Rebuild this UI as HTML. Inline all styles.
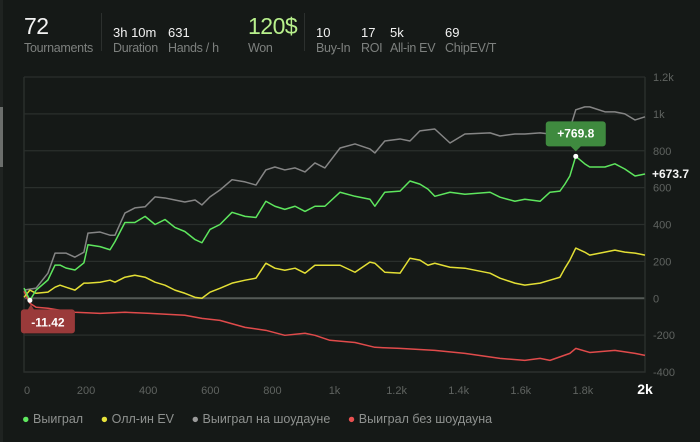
<!DOCTYPE html>
<html><head><meta charset="utf-8">
<style>
body{margin:0;background:#151917;width:700px;height:442px;overflow:hidden;font-family:"Liberation Sans",sans-serif;position:relative}
.abs{position:absolute;white-space:nowrap}
.v{color:#f2f2f2;font-size:13px}
.l{color:#7d807e;font-size:12.5px;letter-spacing:-0.3px}
.big{font-size:23px;color:#f2f2f2;letter-spacing:-0.5px}
.div{position:absolute;width:1px;background:#2c302e}
</style></head><body>
<div class="abs" style="left:0;top:0;width:3px;height:442px;background:#1f2321"></div>
<div class="abs" style="left:0;top:107px;width:3px;height:60px;background:#6b6e6c"></div>

<div class="abs big" style="left:24px;top:13px">72</div>
<div class="abs l" style="left:24px;top:41px">Tournaments</div>
<div class="div" style="left:101px;top:13px;height:38px"></div>
<div class="abs v" style="left:113px;top:25px">3h 10m</div>
<div class="abs l" style="left:113px;top:41px">Duration</div>
<div class="abs v" style="left:168px;top:25px">631</div>
<div class="abs l" style="left:168px;top:41px">Hands / h</div>
<div class="abs big" style="left:248px;top:13px;color:#b8f08c">120$</div>
<div class="abs l" style="left:248px;top:41px">Won</div>
<div class="div" style="left:304px;top:13px;height:38px"></div>
<div class="abs v" style="left:316px;top:25px">10</div>
<div class="abs l" style="left:316px;top:41px">Buy-In</div>
<div class="abs v" style="left:361px;top:25px">17</div>
<div class="abs l" style="left:361px;top:41px">ROI</div>
<div class="abs v" style="left:390px;top:25px">5k</div>
<div class="abs l" style="left:390px;top:41px">All-in EV</div>
<div class="abs v" style="left:445px;top:25px">69</div>
<div class="abs l" style="left:445px;top:41px">ChipEV/T</div>

<svg id="chart" width="700" height="442" style="position:absolute;left:0;top:0" font-family="Liberation Sans, sans-serif"></svg>

<div class="abs" style="left:22px;top:412px;font-size:12.5px;color:#8e918f">
<span><span style="color:#5fe85f">●</span> Выиграл</span>
<span style="margin-left:14px"><span style="color:#e6e23a">●</span> Олл-ин EV</span>
<span style="margin-left:14px"><span style="color:#9a9a9a">●</span> Выиграл на шоудауне</span>
<span style="margin-left:14px"><span style="color:#e85050">●</span> Выиграл без шоудауна</span>
</div>

<script>
const yTicks=[-400,-200,0,200,400,600,800,1000,1200];
const yTickLabels=["-400","-200","0","200","400","600","800","1k","1.2k"];
const xTicks=[0,200,400,600,800,1000,1200,1400,1600,1800,2000];
const xTickLabels=["0","200","400","600","800","1k","1.2k","1.4k","1.6k","1.8k","2k"];
const wonHands=[0,19,39,77,100,116,135,164,193,206,245,277,293,325,357,390,422,454,486,518,551,573,599,631,670,712,747,779,808,840,873,905,937,969,1018,1066,1114,1130,1162,1211,1243,1275,1301,1323,1372,1420,1501,1533,1581,1613,1662,1694,1726,1742,1758,1777,1806,1822,1871,1903,1935,1968,2000];
const wonValues=[55,-11.42,44,99,180,180,164,153,192,290,280,263,307,411,411,444,400,427,384,362,318,301,373,400,466,444,438,526,499,482,499,471,499,499,575,553,537,499,575,581,636,619,592,553,575,564,575,548,526,537,526,575,581,619,663,769.8,729,712,712,729,701,663,673.7];
const sdHands=[0,39,77,100,135,164,193,206,245,277,293,325,357,390,422,454,486,518,551,573,599,631,670,712,747,779,808,840,873,905,937,969,1018,1066,1114,1130,1162,1211,1243,1275,1323,1372,1420,1501,1533,1581,1613,1662,1694,1726,1758,1777,1806,1822,1871,1903,1935,1968,2000];
const sdValues=[44,55,136,245,245,223,250,353,359,342,342,462,490,496,550,544,533,522,533,506,550,587,643,631,614,696,712,696,707,685,734,707,815,837,810,788,853,864,853,908,918,842,891,897,880,891,891,897,891,918,918,1022,1038,1038,1011,1011,1000,967,984];
const evHands=[0,19,39,77,100,116,135,164,193,206,245,277,293,325,357,390,422,454,486,518,551,573,599,631,670,712,747,779,808,840,873,905,937,969,1018,1066,1114,1130,1162,1211,1243,1275,1301,1323,1372,1420,1501,1533,1581,1613,1662,1694,1726,1742,1758,1777,1806,1822,1871,1903,1935,1968,2000];
const evValues=[5,44,27,33,60,71,60,44,82,82,87,98,87,114,125,114,87,71,44,27,5,0,33,54,82,98,109,190,163,152,163,136,179,179,179,141,196,190,141,136,217,207,179,190,168,163,136,109,82,71,82,98,114,163,207,272,250,234,250,261,250,245,234];
const noSdHands=[0,19,39,77,116,164,245,325,406,518,573,631,712,779,840,905,937,985,1066,1130,1211,1323,1420,1533,1613,1662,1694,1758,1777,1822,1903,1968,2000];
const noSdValues=[38,-27,-49,-54,-65,-76,-82,-76,-82,-92,-109,-120,-158,-174,-201,-190,-201,-228,-240,-266,-272,-283,-299,-326,-337,-326,-337,-299,-272,-294,-283,-299,-310];

const NS="http://www.w3.org/2000/svg";
const svg=document.getElementById('chart');
const X0=24,X1=645,YTOP=77,YBOT=372;
const yMin=-400,yMax=1200,xMax=2000;
function xs(h){return X0+(X1-X0)*h/xMax;}
function ys(v){return YBOT-(YBOT-YTOP)*(v-yMin)/(yMax-yMin);}
function mk(t,a){const e=document.createElementNS(NS,t);for(const k in a)e.setAttribute(k,a[k]);svg.appendChild(e);return e;}

yTicks.forEach((v,i)=>{
  const ln=mk('line',{x1:X0,x2:X1,y1:ys(v),y2:ys(v),stroke:v===0?'#555a57':'#2a2f2c','stroke-width':v===0?2:1.2});
  
  
  const t=mk('text',{x:X1+8,y:ys(v)+4,fill:'#5f6360','font-size':11});
  t.textContent=yTickLabels[i];
  
  
});
const ax=mk('path',{d:`M${X0},${YTOP}V${YBOT}H${X1}V${YTOP}`,fill:'none',stroke:'#2a2f2c','stroke-width':1.5});


xTicks.forEach((h,i)=>{
  const last=i===xTicks.length-1;
  const t=mk('text',{x:xs(h),y:394,fill:last?'#ffffff':'#5f6360','font-size':last?14:11,'font-weight':last?'bold':'normal','text-anchor':i===0?'start':'middle'});
  t.textContent=xTickLabels[i];
  
  
});
function series(hs,vs,color,name){
  const p=mk('polyline',{points:hs.map((h,i)=>xs(h)+','+ys(vs[i])).join(' '),fill:'none',stroke:color,'stroke-width':1.5,'stroke-linejoin':'round'});
  
  
}
series(noSdHands,noSdValues,'#e04b4b','no-showdown-line');
series(sdHands,sdValues,'#858585','showdown-line');
series(evHands,evValues,'#e3df35','allin-ev-line');
series(wonHands,wonValues,'#5ee65e','won-line');

// max marker
let mi=0,ni=0;wonValues.forEach((v,i)=>{if(v>wonValues[mi])mi=i;if(v<wonValues[ni])ni=i;});
const mx=xs(wonHands[mi]),my=ys(wonValues[mi]);
const g1=mk('path',{d:`M${mx-27},${my-35}h54a3,3 0 0 1 3,3v19a3,3 0 0 1-3,3h-22l-5,5l-5,-5h-22a3,3 0 0 1-3,-3v-19a3,3 0 0 1 3,-3z`,fill:'#3f8a3f'});


const t1=mk('text',{x:mx,y:my-19,fill:'#fff','font-size':12,'font-weight':'bold','text-anchor':'middle'});
t1.textContent='+'+wonValues[mi].toFixed(1);


const d1=mk('circle',{cx:mx,cy:my,r:2.5,fill:'#fff'});


// min marker
const nx=xs(wonHands[ni]),ny=ys(wonValues[ni]);
const g2=mk('path',{d:`M${nx-6},${ny+9}h48a3,3 0 0 1 3,3v18a3,3 0 0 1-3,3h-48a3,3 0 0 1-3,-3v-18a3,3 0 0 1 3,-3h4l3,-5l3,5z`,fill:'#9a3a3a'});


const t2=mk('text',{x:nx+18,y:ny+26,fill:'#fff','font-size':12,'font-weight':'bold','text-anchor':'middle'});
t2.textContent=wonValues[ni].toFixed(2);


const d2=mk('circle',{cx:nx,cy:ny,r:2.5,fill:'#fff'});


// last value
const lv=wonValues[wonValues.length-1];
const t3=mk('text',{x:X1+7,y:ys(lv)+4,fill:'#f5f5f5','font-size':12,'font-weight':'bold'});
t3.textContent='+'+lv.toFixed(1);


</script>
</body></html>
